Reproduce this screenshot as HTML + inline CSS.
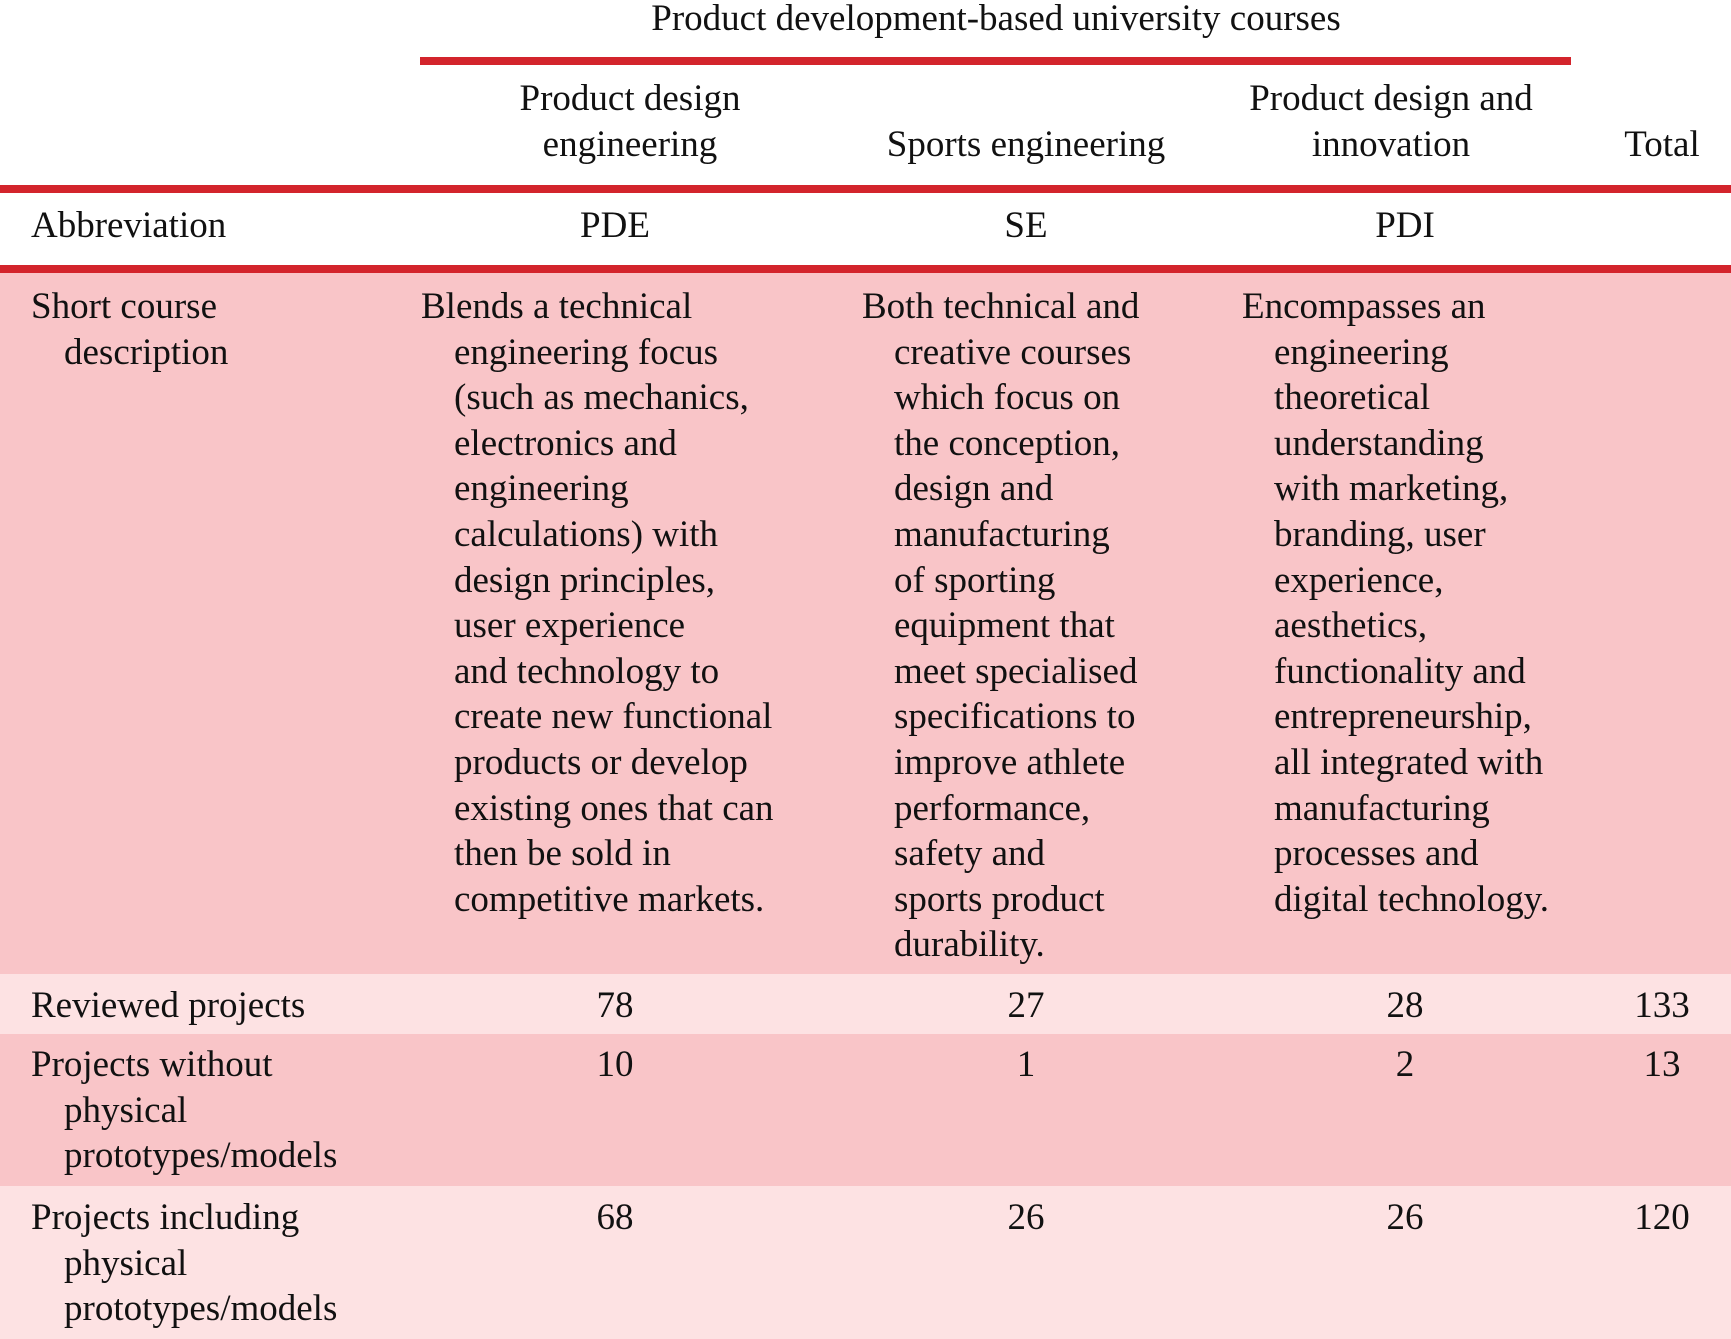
<!DOCTYPE html>
<html><head><meta charset="utf-8"><style>
body{margin:0;width:1731px;height:1339px;background:#fff;position:relative;overflow:hidden;font-family:"Liberation Serif",serif;font-size:37px;color:#111;}
.a{position:absolute;line-height:45.6px;white-space:nowrap;}
.c{transform:translateX(-50%);text-align:center;}
.bar{position:absolute;background:#d3242c;height:8px;}
.bg{position:absolute;left:0;width:1731px;}
</style></head><body>
<div class="bg" style="top:273px;height:701px;background:#f9c5c8"></div>
<div class="bg" style="top:974px;height:60px;background:#fde2e3"></div>
<div class="bg" style="top:1034px;height:152px;background:#f9c5c8"></div>
<div class="bg" style="top:1186px;height:153px;background:#fde2e3"></div>

<div class="bar" style="left:420px;width:1151px;top:57px"></div>
<div class="bar" style="left:0;width:1731px;top:185px"></div>
<div class="bar" style="left:0;width:1731px;top:265px"></div>

<div class="a c" style="left:996px;top:-4px">Product development-based university courses</div>
<div class="a c" style="left:630px;top:76px">Product design<br>engineering</div>
<div class="a c" style="left:1026px;top:122px">Sports engineering</div>
<div class="a c" style="left:1391px;top:76px">Product design and<br>innovation</div>
<div class="a c" style="left:1662px;top:122px">Total</div>

<div class="a" style="left:31px;top:203px">Abbreviation</div>
<div class="a c" style="left:615px;top:203px">PDE</div>
<div class="a c" style="left:1026px;top:203px">SE</div>
<div class="a c" style="left:1405px;top:203px">PDI</div>

<div class="a" style="left:31px;top:284px">Short course<br><span style="padding-left:33px">description</span></div>
<div class="a" style="left:421px;top:284px">Blends a technical<div style="padding-left:33px">engineering focus<br>(such as mechanics,<br>electronics and<br>engineering<br>calculations) with<br>design principles,<br>user experience<br>and technology to<br>create new functional<br>products or develop<br>existing ones that can<br>then be sold in<br>competitive markets.</div></div>
<div class="a" style="left:862px;top:284px">Both technical and<div style="padding-left:32px">creative courses<br>which focus on<br>the conception,<br>design and<br>manufacturing<br>of sporting<br>equipment that<br>meet specialised<br>specifications to<br>improve athlete<br>performance,<br>safety and<br>sports product<br>durability.</div></div>
<div class="a" style="left:1242px;top:284px">Encompasses an<div style="padding-left:32px">engineering<br>theoretical<br>understanding<br>with marketing,<br>branding, user<br>experience,<br>aesthetics,<br>functionality and<br>entrepreneurship,<br>all integrated with<br>manufacturing<br>processes and<br>digital technology.</div></div>

<div class="a" style="left:31px;top:983px">Reviewed projects</div>
<div class="a c" style="left:615px;top:983px">78</div>
<div class="a c" style="left:1026px;top:983px">27</div>
<div class="a c" style="left:1405px;top:983px">28</div>
<div class="a c" style="left:1662px;top:983px">133</div>

<div class="a" style="left:31px;top:1042px">Projects without<div style="padding-left:33px">physical<br>prototypes/models</div></div>
<div class="a c" style="left:615px;top:1042px">10</div>
<div class="a c" style="left:1026px;top:1042px">1</div>
<div class="a c" style="left:1405px;top:1042px">2</div>
<div class="a c" style="left:1662px;top:1042px">13</div>

<div class="a" style="left:31px;top:1195px">Projects including<div style="padding-left:33px">physical<br>prototypes/models</div></div>
<div class="a c" style="left:615px;top:1195px">68</div>
<div class="a c" style="left:1026px;top:1195px">26</div>
<div class="a c" style="left:1405px;top:1195px">26</div>
<div class="a c" style="left:1662px;top:1195px">120</div>
</body></html>
